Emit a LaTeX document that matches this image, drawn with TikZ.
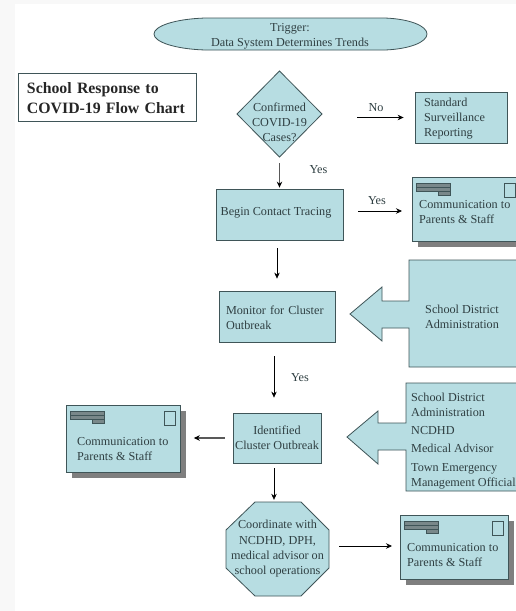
\documentclass[tikz,border=0pt]{standalone}
\usepackage{fontspec}
\setmainfont{Liberation Serif}
\usetikzlibrary{arrows.meta}
\definecolor{fillc}{HTML}{B7DDE2}
\definecolor{edgec}{HTML}{3F5558}
\definecolor{textc}{HTML}{2F3F42}
\definecolor{shadowc}{HTML}{7F7F7F}
\definecolor{stripc}{HTML}{F8F8F8}
\tikzset{
  x=1pt,y=-1pt,
  shp/.style={draw=edgec,fill=fillc,line width=0.8pt},
  box/.style={shp,rectangle,inner sep=0pt,text=textc,font=\fontsize{12.2}{15}\selectfont,align=center,execute at begin node={\rule{0pt}{11pt}}},
  txt/.style={inner sep=0pt,text=textc,font=\fontsize{12.2}{15}\selectfont,align=center,yshift=-1.3pt},
  ltxt/.style={txt,align=left},
  anch/.style={inner sep=0pt,rectangle},
  arr/.style={draw=black,line width=0.7pt,-{Stealth[length=6pt,width=5.5pt]}},
  garr/.style={draw=black!65,line width=1.1pt,-{Stealth[length=6pt,width=5.5pt,color=black]}},
  barc/.style={draw=edgec,fill=edgec!70,line width=0.6pt},
  stamp/.style={draw=edgec,line width=0.7pt},
}
% name, x1, y1, x2, y2, text x, text y
\newcommand{\commbox}[7]{%
  \fill[shadowc] (#2+6,#3+6) rectangle (#4+6,#5+6);
  \node[box,anchor=north west,minimum width=#4pt-#2pt,minimum height=#5pt-#3pt] (#1) at (#2,#3) {};
  \draw[barc] (#2+4,#3+6) rectangle (#2+38,#3+10);
  \draw[barc] (#2+4,#3+10) rectangle (#2+38,#3+14);
  \draw[barc] (#2+26,#3+14) rectangle (#2+38,#3+18);
  \draw[stamp] (#4-16,#3+6) rectangle (#4-5,#3+20);
  \node[ltxt,anchor=west] (#1t) at (#6,#7) {Communication to\\Parents \& Staff};
}
\begin{document}
\begin{tikzpicture}
\clip (0,0) rectangle (516,611);
\fill[white] (0,0) rectangle (516,611);
\fill[stripc] (0,0) rectangle (15,611);
\fill[stripc] (0,0) rectangle (516,4);

% trigger
\draw[shp] (205,18) -- (385,18) .. controls (410,19) and (427,26) .. (427,34)
  .. controls (427,42) and (410,49) .. (385,50) -- (205,50)
  .. controls (175,49) and (154,42) .. (154,34)
  .. controls (154,26) and (175,19) .. (205,18) -- cycle;
\node[txt] (trig) at (290,34.5) {Trigger:\\Data System Determines Trends};

% title
\node[draw=edgec,line width=0.8pt,rectangle,minimum width=178pt,minimum height=48pt,inner xsep=8pt,inner ysep=0pt,
  text width=160pt,align=left,text=black!85,font=\fontsize{15.8}{20}\bfseries\selectfont,execute at begin node={\rule{0pt}{13pt}}] (title) at (107,97)
  {School Response to\\COVID-19 Flow Chart};

% decision
\draw[shp] (237,114) -- (279.5,71) -- (322,114) -- (279.5,157) -- cycle;
\node[anch,minimum width=85pt,minimum height=86pt] (dia) at (279.5,114) {};
\node[txt] (diat) at (279.5,121) {Confirmed\\COVID-19\\Cases?};

\node[box,minimum width=92pt,minimum height=51pt,inner xsep=9pt,text width=74pt,align=left] (std) at (461,117.5)
  {Standard\\Surveillance\\Reporting};

\node[box,minimum width=127pt,minimum height=51pt] (begin) at (279.5,214.5) {};
\node[txt] (begint) at (276,211) {Begin Contact Tracing};

\commbox{cone}{412}{177}{520}{241}{419}{210.5}

\node[box,minimum width=116pt,minimum height=51pt,inner xsep=7pt,text width=102pt,align=left] (mon) at (277,316.5)
  {Monitor for Cluster\\Outbreak};

% block arrow 1
\draw[shp] (350,314) -- (382,287) -- (382,301) -- (409,301) -- (409,260) -- (520,260) -- (520,367) -- (409,367) -- (409,328) -- (382,328) -- (382,341) -- cycle;
\node[txt] (sda) at (462,315.5) {School District\\Administration};

\node[box,minimum width=88pt,minimum height=50pt] (ident) at (277,438) {Identified\\Cluster Outbreak};

\commbox{ctwo}{66}{405}{180}{472}{77}{448}

% block arrow 2
\draw[shp] (347,437) -- (378,411) -- (378,423) -- (406,423) -- (406,383) -- (520,383) -- (520,491) -- (406,491) -- (406,450) -- (378,450) -- (378,464) -- cycle;
\node[ltxt,anchor=north west] (team) at (411,392)
  {School District\\Administration\\[3pt]NCDHD\\[3pt]Medical Advisor\\[4pt]Town Emergency\\Management Official};

% octagon
\draw[shp] (255,502) -- (301,502) -- (329,530) -- (329,568) -- (301,596) -- (255,596) -- (226,568) -- (226,530) -- cycle;
\node[anch,minimum width=103pt,minimum height=94pt,text=textc,font=\fontsize{12.2}{15.3}\selectfont,align=center,execute at begin node={\rule{0pt}{15pt}}] (oct) at (277.5,549)
  {Coordinate with\\NCDHD, DPH,\\medical advisor on\\school operations};

\commbox{cthree}{400}{515}{508}{579}{407}{553.5}

% connectors
\draw[arr,shorten <=35pt,shorten >=11pt] (dia.east |- std.west) -- (std.west);
\draw[garr,shorten <=6pt,shorten >=1pt] (dia.south) -- (begin.north);
\draw[arr,shorten <=15pt,shorten >=10pt] ([yshift=3.5pt]begin.east) -- ([yshift=3.5pt]begin.east -| cone.west);
\draw[arr,shorten <=8pt,shorten >=12pt] (begin.south -| mon.north) -- (mon.north);
\draw[arr,shorten <=14pt,shorten >=15pt] ([xshift=-3pt]mon.south) -- ([xshift=-3pt]ident.north);
\draw[garr,shorten <=8pt,shorten >=13pt] (ident.west) -- (ident.west -| ctwo.east);
\draw[arr,shorten <=5pt,shorten >=2pt] ([xshift=-3pt]ident.south) -- ([xshift=-3pt]ident.south |- oct.north);
\draw[arr,shorten <=10pt,shorten >=8pt] ([yshift=3pt]oct.east) -- ([yshift=3pt]oct.east -| cthree.west);

% labels
\node[txt] (lno) at (376,106) {No};
\node[txt] (lyes) at (318.5,168) {Yes};
\node[txt] (lyest) at (377,199) {Yes};
\node[txt] (lyesm) at (300,376) {Yes};
\end{tikzpicture}
\end{document}
